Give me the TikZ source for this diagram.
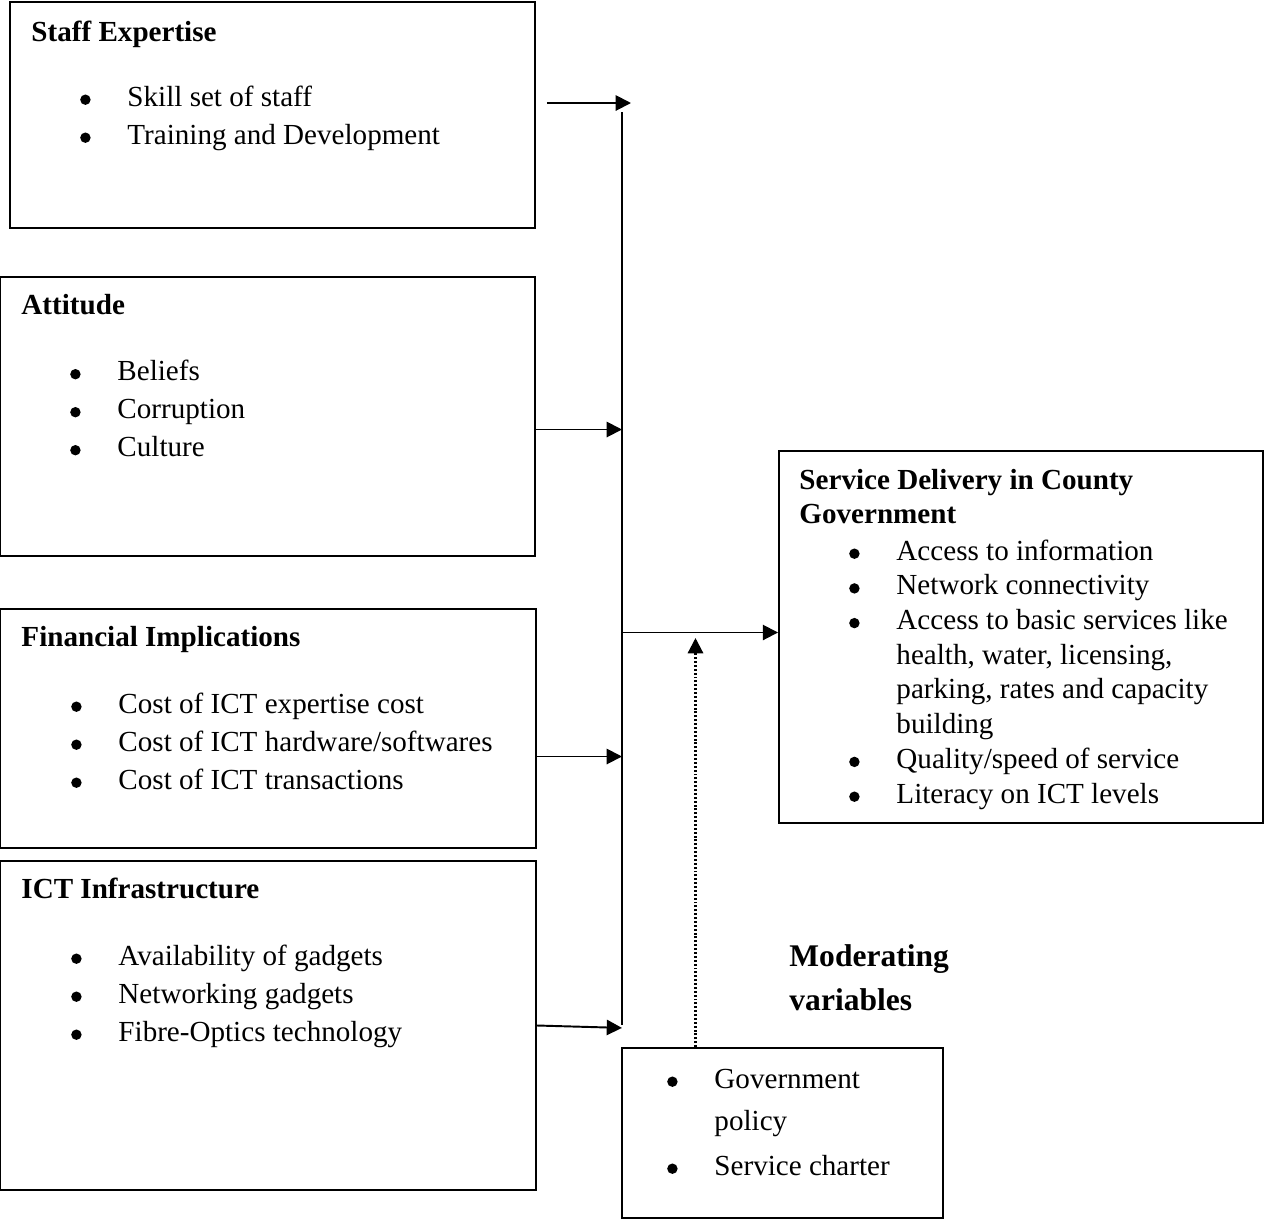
\documentclass[tikz,border=0pt]{standalone}
\usepackage{fontspec}
\setmainfont{Liberation Serif}
\usepackage{tikz}
\usetikzlibrary{arrows.meta,fit}

\newcommand\bulletdot{\tikz[baseline=0pt]\fill (0,2.6pt) circle (2.15pt);}

\begin{document}
\begin{tikzpicture}[
  x=0.4124pt,y=-0.4124pt,
  font=\fontsize{12}{14}\selectfont,
  box/.style={draw=black,line width=0.8pt,inner sep=0pt},
  heading/.style={anchor=base west,inner sep=0pt,font=\bfseries\fontsize{12}{14}\selectfont},
  item/.style={anchor=base west,inner sep=0pt,
    execute at begin node={\llap{\bulletdot\hspace{15.2pt}}}},
  cont/.style={anchor=base west,inner sep=0pt},
  flow/.style={-{Triangle[length=6.3pt,width=6.3pt]},line width=0.8pt},
  moderate/.style={-{Triangle[length=6.3pt,width=6.3pt]},line width=0.9pt,
    dash pattern=on 0.8pt off 0.8pt}
]
\path[use as bounding box] (0,0) rectangle (1264,1220);
% independent variables
\node[box,fit={(10,2) (535,228)}] (staff) {};
\node[heading] (staffh) at (31,41.7) {Staff Expertise};
\node[item] (staff1) at (127,106) {Skill set of staff};
\node[item] (staff2) at (127,144) {Training and Development};

\node[box,fit={(0,277) (535,556)}] (attitude) {};
\node[heading] (attitudeh) at (21,314.5) {Attitude};
\node[item] (attitude1) at (117,380.5) {Beliefs};
\node[item] (attitude2) at (117,418.5) {Corruption};
\node[item] (attitude3) at (117,456.5) {Culture};

\node[box,fit={(0,609) (536,848)}] (finance) {};
\node[heading] (financeh) at (21,646.5) {Financial Implications};
\node[item] (finance1) at (118,713) {Cost of ICT expertise cost};
\node[item] (finance2) at (118,751) {Cost of ICT hardware/softwares};
\node[item] (finance3) at (118,789) {Cost of ICT transactions};

\node[box,fit={(0,861) (536,1190)}] (infra) {};
\node[heading] (infrah) at (21,898.5) {ICT Infrastructure};
\node[item] (infra1) at (118,965) {Availability of gadgets};
\node[item] (infra2) at (118,1003) {Networking gadgets};
\node[item] (infra3) at (118,1041) {Fibre-Optics technology};

% dependent variable
\node[box,fit={(779,451) (1263,823)}] (service) {};
\node[heading] (serviceh1) at (799,489) {Service Delivery in County};
\node[heading] (serviceh2) at (799,523.5) {Government};
\node[item] (service1) at (896,560) {Access to information};
\node[item] (service2) at (896,594.7) {Network connectivity};
\node[item] (service3) at (896,629.4) {Access to basic services like};
\node[cont] (service3b) at (896,664.1) {health, water, licensing,};
\node[cont] (service3c) at (896,698.8) {parking, rates and capacity};
\node[cont] (service3d) at (896,733.5) {building};
\node[item] (service4) at (896,768.2) {Quality/speed of service};
\node[item] (service5) at (896,803) {Literacy on ICT levels};

% moderating variables
\node[heading,font=\bfseries\fontsize{13}{15}\selectfont] (modh1) at (789,966) {Moderating};
\node[heading,font=\bfseries\fontsize{13}{15}\selectfont] (modh2) at (789,1010) {variables};
\node[box,fit={(622,1048) (943,1218)}] (moderating) {};
\node[item] (mod1) at (714,1088) {Government};
\node[cont] (mod1b) at (714,1130) {policy};
\node[item] (mod2) at (714,1175) {Service charter};

% connectors
\coordinate (bustop) at (622,112);
\coordinate (busbot) at (622,1025);
\coordinate (hub) at (622,632.5);
\draw[line width=0.8pt] (bustop) -- (busbot);
\draw[flow] ([xshift=4.5pt]staff.east |- 0,103) -- (631,103);
\draw[flow] (attitude.east |- 0,429.5) -- (bustop |- 0,429.5);
\draw[flow] (finance.east |- 0,756.5) -- (bustop |- 0,756.5);
\draw[flow] (infra.east) -- ([yshift=-1.2pt]busbot);
\draw[flow] (hub) -- (service.west |- hub);
\draw[moderate] (moderating.north -| 695.5,0) -- (695.5,638);
\end{tikzpicture}
\end{document}
